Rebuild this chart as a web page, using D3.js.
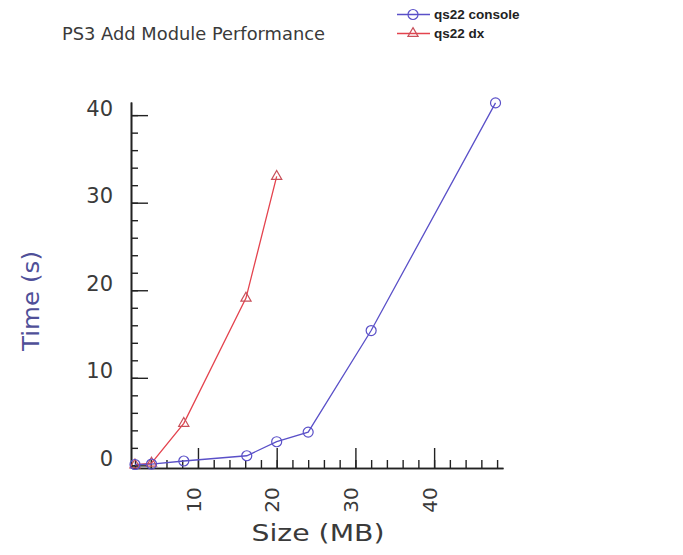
<!DOCTYPE html>
<html>
<head>
<meta charset="utf-8">
<script src="https://cdn.jsdelivr.net/npm/d3@7"></script>
<style>
  html, body { margin: 0; padding: 0; background: #ffffff; }
  svg { display: block; }
  .lbl { font-family: "DejaVu Sans", sans-serif; font-weight: normal; fill: #3a3a3a; }
</style>
</head>
<body>
<svg id="chart" width="683" height="555"></svg>
<script>
// ---- data ----
const seriesNames = ["qs22 console", "qs22 dx"];
const consoleSize = [2, 4.1, 8.2, 16.2, 20, 24, 32, 47.8];
const consoleTime = [0.1, 0.15, 0.5, 1.1, 2.7, 3.8, 15.4, 41.4];
const dxSize = [2, 4.1, 8.2, 16.1, 20];
const dxTime = [0.05, 0.25, 4.8, 19.1, 33.0];
const xMajorTicks = [10, 20, 30, 40];
const xMinorTicks = d3.range(2, 49, 2);
const yMajorTicks = [0, 10, 20, 30, 40];
const yMinorTicks = d3.range(0, 41, 2);
const titleText = "PS3 Add Module Performance";
const xTitle = "Size (MB)";
const yTitle = "Time (s)";

const colors = { console: "#5a50c8", dx: "#e4434e", dxMarker: "#c8505a" };

const svg = d3.select("#chart");
const x = d3.scaleLinear().domain([1.62, 48.75]).range([132, 503]);
const y = d3.scaleLinear().domain([-0.3, 41.5]).range([468, 102]);

// title
svg.append("text").attr("class", "lbl")
  .attr("x", 62).attr("y", 40)
  .attr("font-size", 18).attr("textLength", 263).attr("lengthAdjust", "spacingAndGlyphs")
  .text(titleText);

// axes
const axisColor = "#222";
function styleAxis(g) {
  g.selectAll("path.domain").attr("stroke", axisColor).attr("stroke-width", 1.6);
  g.selectAll(".tick line").attr("stroke", axisColor).attr("stroke-width", 1.4);
}
// y minor
svg.append("g").attr("transform", `translate(${x.range()[0] - 1},0)`)
  .call(d3.axisLeft(y).tickValues(yMinorTicks).tickSize(-7).tickSizeOuter(0).tickFormat(""))
  .call(styleAxis);
// y major
const gy = svg.append("g").attr("transform", `translate(${x.range()[0] - 1},0)`)
  .call(d3.axisLeft(y).tickValues(yMajorTicks).tickSize(-17).tickSizeOuter(0).tickPadding(18).tickFormat(d3.format("d")))
  .call(styleAxis);
gy.selectAll(".tick text").attr("class", "lbl").attr("dy", "0").attr("font-size", 21)
  .attr("fill", null).attr("font-family", null);

// x minor
svg.append("g").attr("transform", `translate(0,${y.range()[0]})`)
  .call(d3.axisBottom(x).tickValues(xMinorTicks).tickSize(-8).tickSizeOuter(0).tickFormat(""))
  .call(styleAxis);
// x major
const gx = svg.append("g").attr("transform", `translate(0,${y.range()[0]})`)
  .call(d3.axisBottom(x).tickValues(xMajorTicks).tickSize(-20).tickSizeOuter(0).tickFormat(d3.format("d")))
  .call(styleAxis);
gx.selectAll(".tick text").attr("class", "lbl").attr("font-size", 20)
  .attr("fill", null).attr("font-family", null)
  .attr("y", 0).attr("x", 0).attr("dy", "0.36em").attr("text-anchor", "middle")
  .attr("transform", "translate(-5,32) rotate(-90)");

// axis titles
svg.append("text").attr("class", "lbl")
  .attr("x", 318).attr("y", 541).attr("text-anchor", "middle")
  .attr("font-size", 23).attr("textLength", 133).attr("lengthAdjust", "spacingAndGlyphs")
  .text(xTitle);
svg.append("text").attr("class", "lbl")
  .attr("transform", "translate(39,301) rotate(-90)").attr("text-anchor", "middle")
  .attr("font-size", 23).attr("textLength", 100).attr("lengthAdjust", "spacingAndGlyphs")
  .style("fill", "#4f4f98")
  .text(yTitle);

// series
const line = d3.line().x(d => x(d[0])).y(d => y(d[1]));
const consoleData = consoleSize.map((s, i) => [s, consoleTime[i]]);
const dxData = dxSize.map((s, i) => [s, dxTime[i]]);

svg.append("path").datum(dxData).attr("d", line)
  .attr("fill", "none").attr("stroke", colors.dx).attr("stroke-width", 1.3);
svg.append("path").datum(consoleData).attr("d", line)
  .attr("fill", "none").attr("stroke", colors.console).attr("stroke-width", 1.3);

const tri = d3.symbol().type(d3.symbolTriangle).size(45);
svg.selectAll("path.tri").data(dxData).join("path").attr("class", "tri")
  .attr("d", tri).attr("transform", d => `translate(${x(d[0])},${y(d[1])})`)
  .attr("fill", "none").attr("stroke", colors.dxMarker).attr("stroke-width", 1.2);
svg.selectAll("circle.pt").data(consoleData).join("circle").attr("class", "pt")
  .attr("cx", d => x(d[0])).attr("cy", d => y(d[1])).attr("r", 5)
  .attr("fill", "none").attr("stroke", colors.console).attr("stroke-width", 1.2);

// legend
const legend = svg.append("g");
const legendItems = [
  { name: seriesNames[0], color: colors.console, marker: "circle", ly: 14.5 },
  { name: seriesNames[1], color: colors.dx, marker: "tri", ly: 33.5 }
];
legendItems.forEach(it => {
  legend.append("line").attr("x1", 397).attr("x2", 430).attr("y1", it.ly).attr("y2", it.ly)
    .attr("stroke", it.color).attr("stroke-width", 1.3);
  if (it.marker === "circle") {
    legend.append("circle").attr("cx", 413).attr("cy", it.ly).attr("r", 5)
      .attr("fill", "none").attr("stroke", it.color).attr("stroke-width", 1.2);
  } else {
    legend.append("path").attr("d", tri).attr("transform", `translate(413,${it.ly})`)
      .attr("fill", "none").attr("stroke", colors.dxMarker).attr("stroke-width", 1.2);
  }
  legend.append("text").attr("x", 434).attr("y", it.ly + 4)
    .attr("font-family", "'Liberation Sans', Arial, sans-serif").attr("font-weight", "bold")
    .attr("font-size", 13.5).attr("fill", "#222").text(it.name);
});
</script>
</body>
</html>
